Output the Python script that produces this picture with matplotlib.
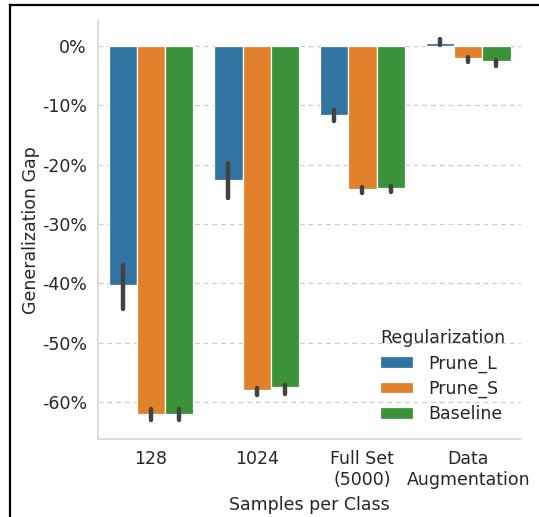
import matplotlib
matplotlib.use("Agg")
import matplotlib.pyplot as plt
from matplotlib.lines import Line2D
from matplotlib.ticker import FuncFormatter
import numpy as np

categories = ["128", "1024", "Full Set\n(5000)", "Data\nAugmentation"]
series = ["Prune_L", "Prune_S", "Baseline"]
colors = ["#3274a1", "#e1812c", "#3a923a"]

# mean generalization gap (%) and confidence interval bounds per regularizer
prune_l = [-40.2, -22.6, -11.7, 0.55]
prune_l_lo = [-44.3, -25.6, -12.7, 0.1]
prune_l_hi = [-36.9, -19.8, -10.8, 1.2]

prune_s = [-62.0, -58.0, -24.1, -2.1]
prune_s_lo = [-63.0, -58.8, -24.7, -2.7]
prune_s_hi = [-61.2, -57.6, -23.7, -1.8]

baseline = [-62.0, -57.4, -24.0, -2.6]
baseline_lo = [-63.0, -58.6, -24.6, -3.3]
baseline_hi = [-61.2, -57.1, -23.6, -2.4]

means = [prune_l, prune_s, baseline]
lows = [prune_l_lo, prune_s_lo, baseline_lo]
highs = [prune_l_hi, prune_s_hi, baseline_hi]

text_color = "#262626"
fs = 12.5
plt.rcParams["font.family"] = ["DejaVu Sans"]

fig = plt.figure(figsize=(5.39, 5.17), dpi=100)
ax = fig.add_axes([0.1818, 0.1509, 0.785, 0.8085])

x = np.arange(len(categories))
group_w = 0.8
bar_w = group_w / len(series)
for i, (name, col) in enumerate(zip(series, colors)):
    pos = x - group_w / 2 + bar_w * (i + 0.5)
    ax.bar(pos, means[i], width=bar_w, color=col, edgecolor="white",
           linewidth=0.9, label=name, zorder=2)
    for p, lo, hi in zip(pos, lows[i], highs[i]):
        ax.plot([p, p], [lo, hi], color="#424242", lw=3.2,
                solid_capstyle="round", zorder=3)

ax.set_xlim(-0.5, 3.5)
ax.set_ylim(-66.2, 4.2)
ax.set_yticks([0, -10, -20, -30, -40, -50, -60])
ax.yaxis.set_major_formatter(FuncFormatter(lambda v, _: f"{v:.0f}%"))
ax.set_xticks(x)
ax.set_xticklabels(categories)

ax.grid(axis="y", linestyle=(0, (4, 3)), color="#cccccc", lw=0.9, zorder=0)
ax.set_axisbelow(True)
for s in ["top", "right"]:
    ax.spines[s].set_visible(False)
for s in ["left", "bottom"]:
    ax.spines[s].set_color("#d5d5d5")
    ax.spines[s].set_linewidth(1.2)
ax.tick_params(length=0, labelsize=fs, labelcolor=text_color, pad=8)

ax.set_ylabel("Generalization Gap", fontsize=fs, color=text_color, labelpad=1)
ax.set_xlabel("Samples per Class", fontsize=fs, color=text_color, labelpad=5)

leg = ax.legend(title="Regularization", frameon=False, fontsize=fs,
                title_fontsize=fs, loc="lower right",
                bbox_to_anchor=(1.0, 0.0), handlelength=1.9,
                handleheight=0.65, labelspacing=0.42, handletextpad=0.85,
                alignment="left")
for t in leg.get_texts():
    t.set_color(text_color)
leg.get_title().set_color(text_color)

# outer frame lines
fig.add_artist(Line2D([10 / 539, 1.0], [1 - 4.5 / 517, 1 - 4.5 / 517],
                      transform=fig.transFigure, color="black", lw=1.6))
fig.add_artist(Line2D([10 / 539, 10 / 539], [0.0, 1 - 4.5 / 517],
                      transform=fig.transFigure, color="black", lw=1.6))

fig.savefig("out.png", dpi=100)
